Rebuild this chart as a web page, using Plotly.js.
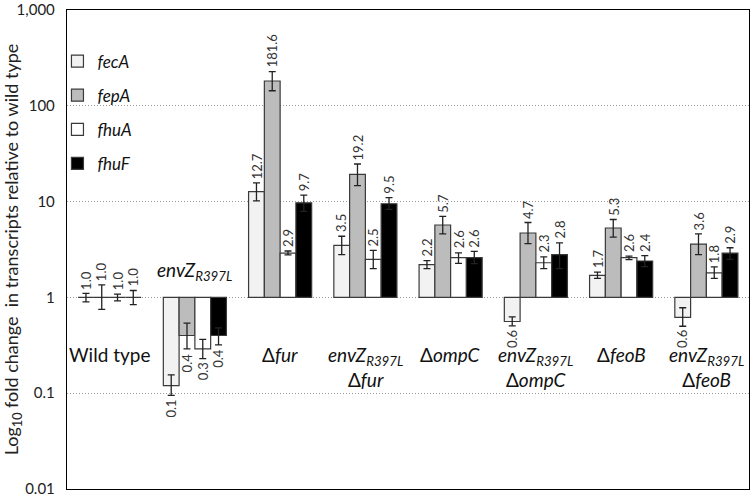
<!DOCTYPE html>
<html><head><meta charset="utf-8">
<script src="https://cdn.plot.ly/plotly-3.0.1.min.js"></script>
<style>html,body{margin:0;padding:0;background:#fff}#chart{width:750px;height:498px}</style>
</head><body><div id="chart"></div>
<script>
// ---- data ----
const strains = ['Wild type', 'envZ R397L', 'Δfur', 'envZ R397L Δfur', 'ΔompC', 'envZ R397L ΔompC', 'ΔfeoB', 'envZ R397L ΔfeoB'];
const strainLabels = [
  'Wild type',
  '<i>envZ</i><sub><i>R397L</i></sub>',
  'Δ<i>fur</i>',
  '<i>envZ</i><sub><i>R397L</i></sub><br>Δ<i>fur</i>',
  'Δ<i>ompC</i>',
  '<i>envZ</i><sub><i>R397L</i></sub><br>Δ<i>ompC</i>',
  'Δ<i>feoB</i>',
  '<i>envZ</i><sub><i>R397L</i></sub><br>Δ<i>feoB</i>'
];
const genes = ['fecA', 'fepA', 'fhuA', 'fhuF'];

const fecA = [1.0, 0.12, 12.7, 3.5, 2.2, 0.56, 1.7, 0.62];
const fepA = [1.0, 0.40, 181.6, 19.2, 5.7, 4.7, 5.3, 3.6];
const fhuA = [1.0, 0.29, 2.9, 2.5, 2.6, 2.3, 2.6, 1.8];
const fhuF = [1.0, 0.40, 9.7, 9.5, 2.6, 2.8, 2.4, 2.9];

const fecAErrPlus  = [0.10, 0.035, 3.0, 0.85, 0.22, 0.065, 0.14, 0.16];
const fecAErrMinus = [0.10, 0.025, 2.5, 0.70, 0.20, 0.055, 0.12, 0.12];
const fepAErrPlus  = [0.35, 0.14, 46, 5.5, 1.3, 1.35, 1.2, 1.0];
const fepAErrMinus = [0.25, 0.11, 38, 4.5, 1.1, 1.05, 1.05, 0.8];
const fhuAErrPlus  = [0.08, 0.075, 0.15, 0.6, 0.32, 0.35, 0.10, 0.28];
const fhuAErrMinus = [0.08, 0.060, 0.12, 0.5, 0.33, 0.30, 0.12, 0.22];
const fhuFErrPlus  = [0.18, 0.08, 2.0, 1.5, 0.42, 0.9, 0.33, 0.4];
const fhuFErrMinus = [0.16, 0.08, 1.8, 1.2, 0.35, 0.8, 0.30, 0.4];

const yTickVals = [0.01, 0.1, 1, 10, 100, 1000];
const yTickText = ['0.01', '0.1', '1', '10', '100', '1,000'];

// ---- styles ----
const values = [fecA, fepA, fhuA, fhuF];
const errPlus = [fecAErrPlus, fepAErrPlus, fhuAErrPlus, fhuFErrPlus];
const errMinus = [fecAErrMinus, fepAErrMinus, fhuAErrMinus, fhuFErrMinus];
const fills = ['#f2f2f2', '#bcbcbc', '#ffffff', '#000000'];
const FONT = 'Lato, "Open Sans", sans-serif';
const BARGAP = 0.26;
const barW = (1 - BARGAP) / 4;
const xIdx = strains.map((_, i) => i);

const traces = genes.map((g, j) => ({
  type: 'bar',
  name: '<i>' + g + '</i>',
  legendgroup: g,
  x: xIdx,
  y: values[j].map(v => v - 1),
  base: values[j].map(() => 1),
  marker: { color: fills[j], line: { color: '#3a3a3a', width: 1.2 } },
  error_y: {
    type: 'data', symmetric: false,
    array: errPlus[j], arrayminus: errMinus[j],
    color: '#222', thickness: 1.3, width: 3.5
  },
  hoverinfo: 'skip'
}));

const annotations = [];
genes.forEach((g, j) => {
  values[j].forEach((v, i) => {
    const up = v >= 1;
    const end = up ? v + errPlus[j][i] : v - errMinus[j][i];
    annotations.push({
      x: i + (j - 1.5) * barW, y: Math.log10(end),
      xref: 'x', yref: 'y',
      text: v.toFixed(1), textangle: -90, showarrow: false,
      xanchor: 'center', yanchor: up ? 'bottom' : 'top',
      yshift: up ? 2 : -2,
      font: { family: FONT, size: 13, color: '#333' }
    });
  });
});
const labelTops = [-0.45, 0.43, -0.45, -0.45, -0.45, -0.45, -0.45, -0.45];
strainLabels.forEach((t, i) => {
  annotations.push({
    x: i, y: labelTops[i], xref: 'x', yref: 'y',
    text: t, showarrow: false, xanchor: 'center', yanchor: 'top',
    font: { family: FONT, size: 19, color: '#111' }
  });
});

const layout = {
  width: 750, height: 498,
  margin: { l: 67, r: 1, t: 10, b: 9 },
  paper_bgcolor: '#fff', plot_bgcolor: '#fff',
  barmode: 'group', bargap: BARGAP, bargroupgap: 0,
  showlegend: true,
  legend: {
    x: -0.014, y: 0.93, xanchor: 'left', yanchor: 'top',
    bgcolor: 'rgba(0,0,0,0)', tracegroupgap: 9,
    font: { family: FONT, size: 17, color: '#111' },
    itemwidth: 30
  },
  xaxis: {
    range: [-0.5, 7.5], showticklabels: false, ticks: '',
    showgrid: false, zeroline: false,
    showline: true, mirror: true, linecolor: '#000', linewidth: 1.2
  },
  yaxis: {
    type: 'log', range: [-2, 3],
    tickvals: yTickVals, ticktext: yTickText, ticks: '',
    tickfont: { family: FONT, size: 15, color: '#222' },
    ticklabelstandoff: 8, ticklabeloverflow: 'allow',
    showgrid: true, gridcolor: '#999', griddash: '1px,2px', gridwidth: 1,
    zeroline: false, showline: true, mirror: true, linecolor: '#000', linewidth: 1.2,
    title: { text: 'Log<sub>10</sub> fold change  in transcripts relative to wild type',
             font: { family: FONT, size: 18, color: '#222' }, standoff: 6 }
  },
  annotations: annotations
};

Plotly.newPlot('chart', traces, layout, { staticPlot: true, displayModeBar: false });
</script></body></html>
